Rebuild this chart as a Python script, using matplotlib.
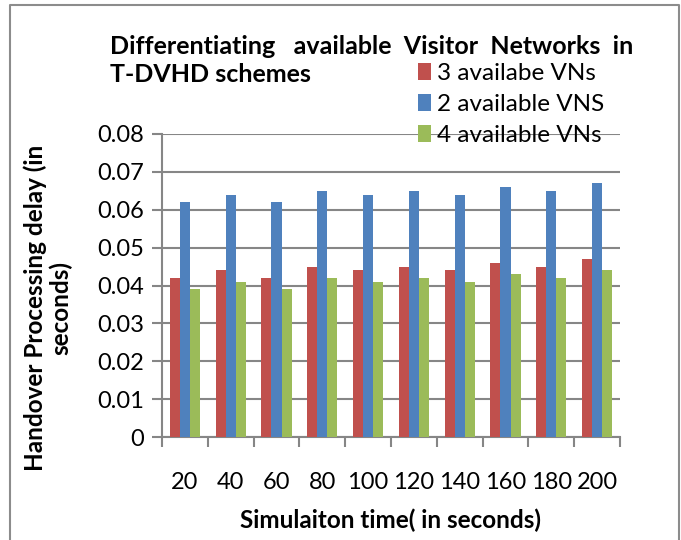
import matplotlib.pyplot as plt
import numpy as np
from matplotlib.lines import Line2D

plt.rcParams['font.family'] = ['Lato', 'DejaVu Sans']

times = ['20', '40', '60', '80', '100', '120', '140', '160', '180', '200']
vns3 = [0.042, 0.044, 0.042, 0.045, 0.044, 0.045, 0.044, 0.046, 0.045, 0.047]
vns2 = [0.062, 0.064, 0.062, 0.065, 0.064, 0.065, 0.064, 0.066, 0.065, 0.067]
vns4 = [0.039, 0.041, 0.039, 0.042, 0.041, 0.042, 0.041, 0.043, 0.042, 0.044]

W, H = 681, 540
fig = plt.figure(figsize=(6.81, 5.4), dpi=100)
ax = fig.add_axes([162 / W, 1 - 437 / H, (620 - 162) / W, (437 - 134) / H])

x = np.arange(len(times))
w = 0.22
ax.bar(x - w, vns3, w, color='#c0504d', label='3 availabe VNs', zorder=3)
ax.bar(x, vns2, w, color='#4f81bd', label='2 available VNS', zorder=3)
ax.bar(x + w, vns4, w, color='#9bbb59', label='4 available VNs', zorder=3)

ax.set_xlim(-0.5, len(times) - 0.5)
ax.set_ylim(0, 0.08)
ax.set_yticks(np.arange(0, 0.081, 0.01))
ax.set_yticklabels(['0'] + ['%.2f' % v for v in np.arange(0.01, 0.081, 0.01)], fontsize=17)
ax.set_xticks(x)
ax.set_xticklabels(times, fontsize=17)
ax.set_xticks(np.arange(-0.5, len(times), 1), minor=True)
ax.tick_params(axis='x', which='major', length=0, pad=25)
ax.tick_params(axis='x', which='minor', length=7, width=1.5, color='#868686', direction='out')
ax.tick_params(axis='y', length=7, width=1.5, color='#868686', direction='out', pad=6)

ax.grid(axis='y', color='#868686', linewidth=1.5, zorder=0)
for s in ['top', 'right']:
    ax.spines[s].set_visible(False)
for s in ['left', 'bottom']:
    ax.spines[s].set_color('#868686')
    ax.spines[s].set_linewidth(1.5)

fig.text(391 / W, 1 - 520 / H, 'Simulaiton time( in seconds)', fontsize=17.5,
         fontweight='bold', ha='center', va='center')
fig.text(48 / W, 1 - 308 / H, 'Handover Processing delay (in\nseconds)', fontsize=17.5,
         fontweight='bold', ha='center', va='center', rotation=90, multialignment='center',
         linespacing=1.1)

fig.text(110 / W, 1 - 47 / H, 'Differentiating   available  Visitor  Networks  in', fontsize=18,
         fontweight='bold', va='center')
fig.text(110 / W, 1 - 75 / H, 'T-DVHD schemes', fontsize=18, fontweight='bold', va='center')

ax.legend(loc='upper left', bbox_to_anchor=(418 / W, 1 - 63 / H), bbox_transform=fig.transFigure,
          frameon=False, fontsize=17.5, handlelength=0.55, handleheight=0.7, handletextpad=0.25,
          labelspacing=0.42, borderpad=0, borderaxespad=0)

# chart border (left, top, right)
bx0, bx1, by0 = 10 / W, 679 / W, 1 - 5 / H
fig.add_artist(Line2D([bx0, bx0, bx1, bx1], [0, by0, by0, 0], transform=fig.transFigure,
                      color='#8c8c8c', linewidth=1.5))

plt.savefig('out.png', dpi=100)
